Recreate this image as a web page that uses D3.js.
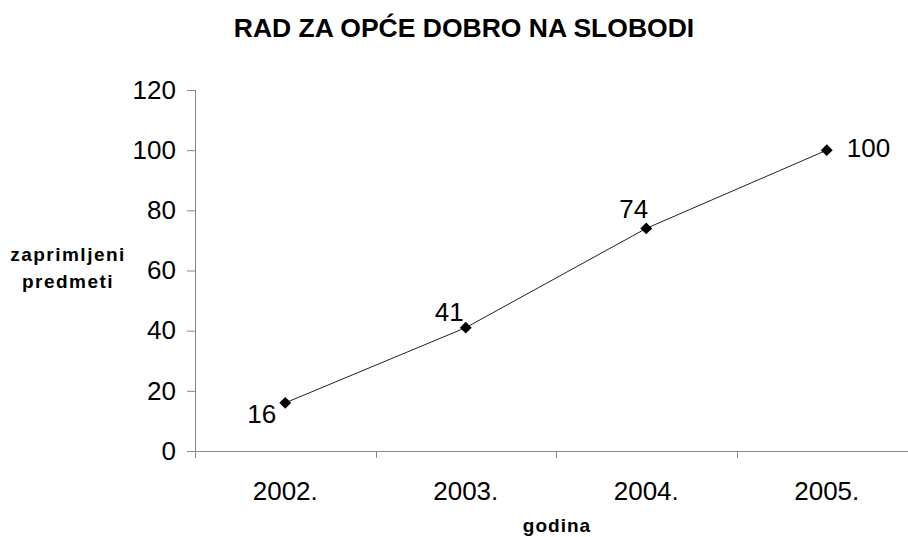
<!DOCTYPE html>
<html>
<head>
<meta charset="utf-8">
<script src="https://cdn.jsdelivr.net/npm/d3@7"></script>
<style>
  html, body { margin: 0; padding: 0; background: #fff; }
  svg { display: block; font-family: "Liberation Sans", Arial, sans-serif; }
</style>
</head>
<body>
<svg id="chart" width="908" height="537"></svg>
<script>
const title = "RAD ZA OPĆE DOBRO NA SLOBODI";
const categories = ["2002.", "2003.", "2004.", "2005."];
const values = [16, 41, 74, 100];
const yTicks = [0, 20, 40, 60, 80, 100, 120];
const yLabelLines = ["zaprimljeni", "predmeti"];
const xLabel = "godina";

(function () {
const svg = d3.select("#chart");
const pLeft = 195, pRight = 917, pTop = 90, pBottom = 451;

const x = d3.scaleBand().domain(categories).range([pLeft, pRight]).paddingInner(0).paddingOuter(0);
const y = d3.scaleLinear().domain([0, 120]).range([pBottom, pTop]);
const cx = c => x(c) + x.bandwidth() / 2;

// Title
svg.append("text").attr("x", 464).attr("y", 37).attr("text-anchor", "middle")
  .attr("font-size", 26.5).attr("font-weight", "bold").attr("fill", "#000").text(title);

// Y axis
const yAxis = svg.append("g").attr("transform", `translate(${pLeft},0)`)
  .call(d3.axisLeft(y).tickValues(yTicks).tickSize(8).tickPadding(11).tickFormat(d3.format("d")));
yAxis.select(".domain").attr("stroke", "#888").attr("d", `M0.5,${pTop}V${pBottom}`);
yAxis.selectAll(".tick line").attr("stroke", "#888");
yAxis.selectAll(".tick text").attr("font-size", 26).attr("fill", "#000")
  .attr("font-family", "Liberation Sans, Arial, sans-serif");

// X axis
const xAxis = svg.append("g").attr("transform", `translate(0,${pBottom})`)
  .call(d3.axisBottom(x).tickSize(0).tickPadding(31));
xAxis.select(".domain").attr("stroke", "#888").attr("d", `M${pLeft},0.5H${pRight}`);
xAxis.selectAll(".tick text").attr("font-size", 26).attr("fill", "#000")
  .attr("font-family", "Liberation Sans, Arial, sans-serif");
// category boundary ticks
const bounds = categories.map(c => x(c));
svg.append("g").selectAll("line").data(bounds).join("line")
  .attr("x1", d => Math.round(d) + 0.5).attr("x2", d => Math.round(d) + 0.5)
  .attr("y1", pBottom).attr("y2", pBottom + 7).attr("stroke", "#888");

// Axis titles
const yl = svg.append("text").attr("text-anchor", "middle").attr("font-size", 19)
  .attr("font-weight", "bold").attr("letter-spacing", "1.5px").attr("fill", "#000");
yl.selectAll("tspan").data(yLabelLines).join("tspan")
  .attr("x", 68).attr("y", (d, i) => 261 + i * 27).text(d => d);

svg.append("text").attr("x", 557).attr("y", 532).attr("text-anchor", "middle")
  .attr("font-size", 19).attr("font-weight", "bold").attr("letter-spacing", "1px")
  .attr("fill", "#000").text(xLabel);

// Line
const data = categories.map((c, i) => ({ c, v: values[i] }));
svg.append("path").datum(data)
  .attr("fill", "none").attr("stroke", "#222").attr("stroke-width", 1)
  .attr("d", d3.line().x(d => cx(d.c)).y(d => y(d.v)));

// Markers
svg.append("g").selectAll("path").data(data).join("path")
  .attr("d", d3.symbol(d3.symbolSquare, 70)())
  .attr("transform", d => `translate(${cx(d.c)},${y(d.v)}) rotate(45)`)
  .attr("fill", "#000");

// Data labels
const labelPos = [
  { dx: -9, dy: 20, anchor: "end" },
  { dx: -2, dy: -7, anchor: "end" },
  { dx: 2, dy: -10, anchor: "end" },
  { dx: 20, dy: 7, anchor: "start" }
];
svg.append("g").selectAll("text").data(data).join("text")
  .attr("x", (d, i) => cx(d.c) + labelPos[i].dx)
  .attr("y", (d, i) => y(d.v) + labelPos[i].dy)
  .attr("text-anchor", (d, i) => labelPos[i].anchor)
  .attr("font-size", 26).attr("fill", "#000")
  .text(d => d.v);
})();
</script>
</body>
</html>
